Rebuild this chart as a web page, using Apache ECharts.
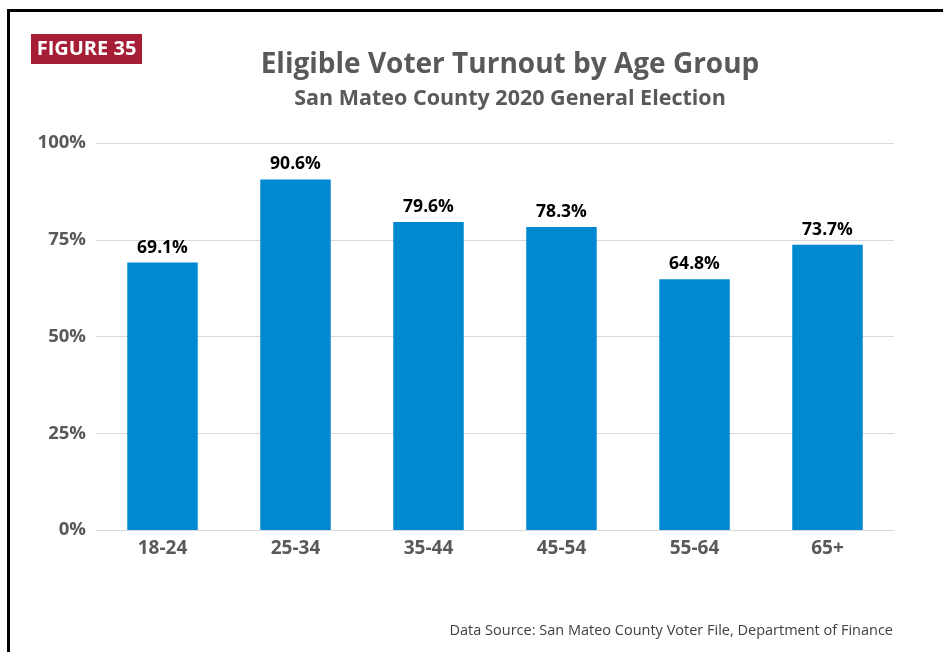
<!DOCTYPE html>
<html><head><meta charset="utf-8">
<script src="https://cdn.jsdelivr.net/npm/echarts@6/dist/echarts.min.js"></script>
<style>html,body{margin:0;padding:0;background:#fff;}#c{width:943px;height:652px;}</style>
</head><body><div id="c"></div>
<script>
const categories = ['18-24','25-34','35-44','45-54','55-64','65+'];
const turnout = [69.1, 90.6, 79.6, 78.3, 64.8, 73.7];
const yTicks = [0, 25, 50, 75, 100];

const FONT = '"Open Sans", "Noto Sans", sans-serif';
const chart = echarts.init(document.getElementById('c'), null, {renderer:'canvas'});
chart.setOption({
  animation: false,
  backgroundColor: '#fff',
  title: [
    {text: 'Eligible Voter Turnout by Age Group', left: 505, top: 46, textAlign: 'center',
     textStyle: {fontFamily: FONT, fontWeight: 'bold', fontSize: 28, color: '#595959'}},
    {text: 'San Mateo County 2020 General Election', left: 505, top: 83, textAlign: 'center',
     textStyle: {fontFamily: FONT, fontWeight: 'bold', fontSize: 21.5, color: '#595959'}}
  ],
  graphic: [
    {type: 'rect', shape: {x: 8.5, y: 10.5, width: 1000, height: 700},
     style: {fill: 'none', stroke: '#000', lineWidth: 3}},
    {type: 'rect', shape: {x: 31, y: 34, width: 111, height: 30}, style: {fill: '#A51E36'}},
    {type: 'text', x: 86.5, y: 49, style: {text: 'FIGURE 35', fill: '#fff', font: 'bold 20px ' + FONT,
      textAlign: 'center', textVerticalAlign: 'middle'}},
    {type: 'text', x: 893, y: 631, style: {text: 'Data Source: San Mateo County Voter File, Department of Finance',
      fill: '#404040', font: '14.5px ' + FONT, textAlign: 'right', textVerticalAlign: 'middle'}}
  ],
  grid: {left: 96, right: 49, top: 143, bottom: 122, containLabel: false},
  xAxis: {
    type: 'category', data: categories,
    axisLine: {show: true, lineStyle: {color: '#d9d9d9', width: 1}},
    axisTick: {show: false},
    axisLabel: {fontFamily: FONT, fontWeight: 'bold', fontSize: 19, color: '#595959', margin: 9}
  },
  yAxis: {
    type: 'value', min: yTicks[0], max: yTicks[yTicks.length-1], interval: 25,
    axisLine: {show: false}, axisTick: {show: false},
    splitLine: {lineStyle: {color: '#d9d9d9', width: 1}},
    axisLabel: {fontFamily: FONT, fontWeight: 'bold', fontSize: 18.5, color: '#595959', margin: 10,
      formatter: v => v + '%'}
  },
  series: [{
    type: 'bar', data: turnout, barWidth: '53%',
    itemStyle: {color: '#0088D1'},
    label: {show: true, position: 'top', distance: 6, fontFamily: FONT, fontWeight: 'bold', fontSize: 17.5,
      color: '#000', formatter: p => p.value.toFixed(1) + '%'}
  }]
});
</script></body></html>
